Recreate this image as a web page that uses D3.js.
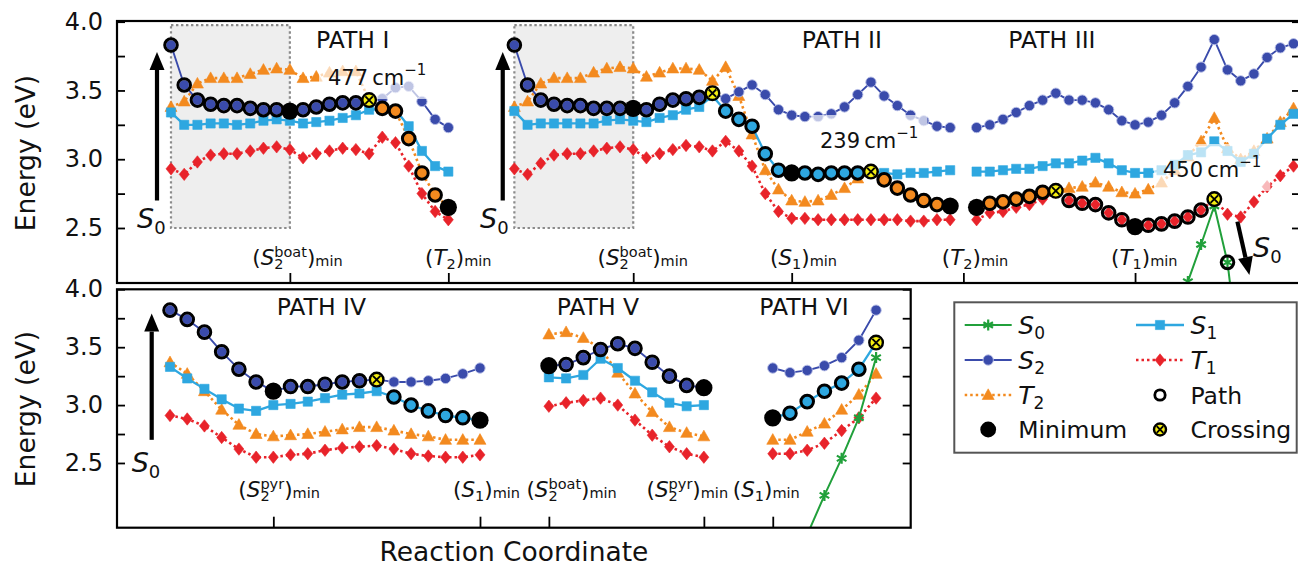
<!DOCTYPE html>
<html><head><meta charset="utf-8">
<script src="https://cdn.jsdelivr.net/npm/d3@7"></script>
<style>
body{margin:0;background:#fff}
svg{display:block}
text{font-family:"DejaVu Sans",sans-serif;fill:#111}
</style>
</head><body>
<svg id="chart" width="1298" height="568"></svg>
<script>
// ---------------- DATA ----------------
// reaction-coordinate offsets of each path on its axis
const topPathStart = [0, 26, 61];
const botPathStart = [0, 22, 35];

// PATH I
const pathI_S2 = [3.83,3.54,3.43,3.40,3.39,3.39,3.37,3.36,3.36,3.35,3.36,3.38,3.40,3.41,3.41,3.43,3.44,3.52,3.53,3.42,3.29,3.23];
const pathI_S1 = [3.34,3.25,3.25,3.26,3.26,3.25,3.26,3.28,3.29,3.28,3.26,3.27,3.28,3.30,3.32,3.36,3.36,3.36,3.24,3.06,2.95,2.91];
const pathI_T2 = [3.38,3.42,3.55,3.59,3.59,3.59,3.62,3.65,3.66,3.65,3.59,3.60,3.63,3.64,3.64,3.43,3.37,3.35,3.15,2.90,2.74,2.65];
const pathI_T1 = [2.93,2.89,2.98,3.03,3.04,3.04,3.06,3.08,3.09,3.07,3.01,3.04,3.06,3.08,3.07,3.04,3.16,3.12,2.95,2.75,2.62,2.56];
const pathI_route = [["S2",0,8,"ring"],["S2",9,9,"min"],["S2",10,14,"ring"],["S2",15,15,"cross"],["T2",16,20,"ring"],["T2",21,21,"min"]];

// PATH II
const pathII_S2 = [3.83,3.54,3.43,3.40,3.39,3.39,3.37,3.37,3.37,3.37,3.36,3.40,3.43,3.44,3.45,3.48,3.44,3.49,3.54,3.47,3.36,3.32,3.31,3.31,3.33,3.38,3.47,3.56,3.46,3.39,3.32,3.28,3.24,3.23];
const pathII_S1 = [3.35,3.25,3.26,3.26,3.26,3.26,3.26,3.28,3.29,3.28,3.27,3.30,3.32,3.36,3.38,3.46,3.35,3.29,3.24,3.04,2.92,2.90,2.90,2.89,2.90,2.90,2.90,2.91,2.90,2.89,2.90,2.90,2.91,2.92];
const pathII_T2 = [3.38,3.42,3.55,3.59,3.59,3.59,3.63,3.66,3.67,3.66,3.60,3.63,3.66,3.66,3.65,3.57,3.67,3.46,3.18,2.92,2.78,2.70,2.69,2.70,2.74,2.79,2.86,2.91,2.85,2.79,2.74,2.70,2.67,2.66];
const pathII_T1 = [2.93,2.89,2.97,3.03,3.04,3.04,3.06,3.08,3.09,3.07,3.01,3.04,3.07,3.10,3.09,3.06,3.13,3.06,2.95,2.75,2.62,2.57,2.57,2.56,2.56,2.56,2.56,2.56,2.56,2.56,2.55,2.55,2.56,2.56];
const pathII_route = [["S2",0,8,"ring"],["S2",9,9,"min"],["S2",10,14,"ring"],["S2",15,15,"cross"],["S1",16,20,"ring"],["S1",21,21,"min"],["S1",22,26,"ring"],["S1",27,27,"cross"],["T2",28,32,"ring"],["T2",33,33,"min"]];

// PATH III
const pathIII_S2 = [3.23,3.25,3.29,3.34,3.39,3.43,3.48,3.43,3.43,3.41,3.36,3.28,3.25,3.27,3.32,3.41,3.53,3.67,3.87,3.65,3.57,3.62,3.74,3.81,3.84];
const pathIII_S1 = [2.91,2.91,2.92,2.93,2.93,2.95,2.97,2.97,2.99,3.01,2.97,2.92,2.90,2.90,2.92,2.96,3.03,3.05,3.13,3.06,2.98,3.04,3.15,3.25,3.33];
const pathIII_T2 = [2.65,2.68,2.69,2.71,2.73,2.76,2.77,2.79,2.80,2.83,2.80,2.76,2.75,2.78,2.83,2.92,3.02,3.13,3.30,3.08,3.00,3.06,3.15,3.27,3.37];
const pathIII_T1 = [2.56,2.61,2.62,2.65,2.67,2.71,2.76,2.70,2.68,2.67,2.61,2.56,2.51,2.52,2.53,2.55,2.58,2.63,2.71,2.60,2.58,2.69,2.80,2.88,2.95];
const pathIII_S0 = [null,null,null,null,null,null,null,null,null,null,null,null,null,null,null,1.80,2.11,2.38,2.66,2.25,1.45,null,null,null,null];
const pathIII_route = [["T2",0,0,"min"],["T2",1,5,"ring"],["T2",6,6,"cross"],["T1",7,11,"ring"],["T1",12,12,"min"],["T1",13,17,"ring"],["T1",18,18,"cross"],["S0",19,19,"ring"]];

// PATH IV
const pathIV_S2 = [3.82,3.74,3.63,3.46,3.31,3.20,3.12,3.16,3.16,3.18,3.20,3.21,3.22,3.20,3.20,3.21,3.23,3.27,3.32];
const pathIV_S1 = [3.33,3.23,3.14,3.05,2.97,2.95,3.00,3.01,3.03,3.06,3.09,3.10,3.12,3.07,3.00,2.95,2.91,2.89,2.87];
const pathIV_T2 = [3.37,3.27,3.12,2.96,2.83,2.75,2.73,2.74,2.75,2.77,2.79,2.81,2.81,2.78,2.75,2.73,2.70,2.70,2.70];
const pathIV_T1 = [2.91,2.88,2.82,2.72,2.62,2.55,2.55,2.57,2.58,2.61,2.63,2.64,2.65,2.62,2.58,2.56,2.55,2.55,2.57];
const pathIV_route = [["S2",0,5,"ring"],["S2",6,6,"min"],["S2",7,11,"ring"],["S2",12,12,"cross"],["S1",13,17,"ring"],["S1",18,18,"min"]];

// PATH V
const pathV_S2 = [3.34,3.35,3.41,3.48,3.53,3.49,3.37,3.25,3.17,3.15];
const pathV_S1 = [3.24,3.23,3.26,3.40,3.32,3.21,3.11,3.02,2.99,3.00];
const pathV_T2 = [3.61,3.63,3.58,3.49,3.28,3.10,2.94,2.81,2.76,2.73];
const pathV_T1 = [2.99,3.02,3.04,3.06,3.00,2.87,2.74,2.64,2.58,2.55];
const pathV_route = [["S2",0,0,"min"],["S2",1,8,"ring"],["S2",9,9,"min"]];

// PATH VI
const pathVI_S2 = [3.32,3.28,3.30,3.34,3.41,3.56,3.82];
const pathVI_S1 = [2.89,2.93,3.03,3.12,3.19,3.31,3.54];
const pathVI_T2 = [2.70,2.70,2.77,2.84,2.96,3.09,3.27];
const pathVI_T1 = [2.58,2.58,2.61,2.67,2.78,2.89,3.06];
const pathVI_S0 = [null,null,1.88,2.22,2.54,2.89,3.41];
const pathVI_route = [["S1",0,0,"min"],["S1",1,5,"ring"],["S1",6,6,"cross"]];

// axis ticks and labels
const yTickValues = [2.5,2.75,3.0,3.25,3.5,3.75,4.0];
const topTickU = [9,21,35,47,60,73];
const topTickNames = [["S","2","boat"],["T","2",null],["S","2","boat"],["S","1",null],["T","2",null],["T","1",null]];
const botTickU = [6,18,22,31,35];
const botTickNames = [["S","2","pyr"],["S","1",null],["S","2","boat"],["S","2","pyr"],["S","1",null]];
const pathTitles = ["PATH I","PATH II","PATH III","PATH IV","PATH V","PATH VI"];
const crossingFreqs = ["477","239","450"];
const shadedSpans = [[0,9],[26,35]];
const shadedEnergy = [2.5, 3.975];
const legendItems = [["S0","S0"],["S2","S2"],["T2","T2"],["min","Minimum"],["S1","S1"],["T1","T1"],["ring","Path"],["cross","Crossing"]];

// ---------------- LAYOUT / STYLE ----------------
const style = {
  S0:{color:"#21a03b", dash:null, w:2, marker:"star", ringFill:"#fff"},
  S1:{color:"#2ea7e0", dash:null, w:2.3, marker:"square", ringFill:"#2ea7e0"},
  S2:{color:"#3a4bab", dash:null, w:1.9, marker:"circle", ringFill:"#3a4bab"},
  T1:{color:"#e8232a", dash:"2.5,3", w:2.6, marker:"diamond", ringFill:"#fff"},
  T2:{color:"#f38a1f", dash:"2.5,3", w:2.6, marker:"triangle", ringFill:"#f38a1f"}
};
const drawOrder = ["T1","T2","S1","S2","S0"];

const svg = d3.select("#chart");
const defs = svg.append("defs");
const TOP = {x0:117, x1:1300, y0:21, y1:283};
const BOT = {x0:117, x1:910.7, y0:289.3, y1:527.7};
defs.append("clipPath").attr("id","clipTop").append("rect")
  .attr("x",TOP.x0).attr("y",TOP.y0).attr("width",TOP.x1-TOP.x0).attr("height",TOP.y1-TOP.y0);
defs.append("clipPath").attr("id","clipBot").append("rect")
  .attr("x",BOT.x0).attr("y",BOT.y0).attr("width",BOT.x1-BOT.x0).attr("height",BOT.y1-BOT.y0);

const xTop = d3.scaleLinear().domain([-4.089, 85.49]).range([TOP.x0, TOP.x1]);
const yTop = d3.scaleLinear().domain([2.1, 4.005]).range([TOP.y1, TOP.y0]);
const xBot = d3.scaleLinear().domain([-3.078, 43.01]).range([BOT.x0, BOT.x1]);
const yBot = d3.scaleLinear().domain([1.941, 4.0]).range([BOT.y1, BOT.y0]);

function markerPath(type){
  switch(type){
    case "circle": return d3.symbol(d3.symbolCircle, 84)();
    case "square": return "M-4.6,-4.6H4.6V4.6H-4.6Z";
    case "triangle": return "M0,-6.2L6,4.5L-6,4.5Z";
    case "diamond": return "M0,-6.2L5,0L0,6.2L-5,0Z";
    case "star": return "M0,-5.5V5.5M-4.8,-2.75L4.8,2.75M-4.8,2.75L4.8,-2.75";
  }
}
function drawMarker(g, type, color, x, y){
  const p = g.append("path").attr("d", markerPath(type)).attr("transform",`translate(${x},${y})`);
  if(type==="star") p.attr("fill","none").attr("stroke",color).attr("stroke-width",2.2);
  else if(type==="circle") p.attr("fill",color).attr("stroke","#b9c0e6").attr("stroke-width",0.9);
  else p.attr("fill",color).attr("stroke",color).attr("stroke-width",0.6);
}
function drawRing(g,x,y,r=6.3,w=3){
  g.append("circle").attr("cx",x).attr("cy",y).attr("r",r).attr("fill","none").attr("stroke","#000").attr("stroke-width",w);
}
function drawMin(g,x,y,r=8.6){
  g.append("circle").attr("cx",x).attr("cy",y).attr("r",r).attr("fill","#000");
}
function drawCross(g,x,y,r=6.8){
  g.append("circle").attr("cx",x).attr("cy",y).attr("r",r).attr("fill","#f5ee12").attr("stroke","#000").attr("stroke-width",2.4);
  const d = r*0.55;
  g.append("path").attr("d",`M${x-d},${y-d}L${x+d},${y+d}M${x-d},${y+d}L${x+d},${y-d}`)
    .attr("stroke","#000").attr("stroke-width",1.9);
}

function drawSeries(g, xs, ys, start, data){
  drawOrder.forEach(k=>{
    const vals = data[k]; if(!vals) return;
    const st = style[k];
    const line = d3.line().defined(d=>d!=null).x((d,i)=>xs(start+i)).y(d=>ys(d));
    g.append("path").datum(vals).attr("d",line).attr("fill","none")
      .attr("stroke",st.color).attr("stroke-width",st.w)
      .attr("stroke-dasharray",st.dash).attr("stroke-linejoin","round");
    vals.forEach((v,i)=>{ if(v!=null) drawMarker(g, st.marker, st.color, xs(start+i), ys(v)); });
  });
}
function drawRoute(g, xs, ys, start, data, route){
  route.forEach(([k,a,b,kind])=>{
    for(let i=a;i<=b;i++){
      const x = xs(start+i), y = ys(data[k][i]);
      if(kind==="ring"){
        const st = style[k];
        g.append("circle").attr("cx",x).attr("cy",y).attr("r",6.3).attr("fill",st.ringFill);
        drawMarker(g, st.marker, st.color, x, y);
        drawRing(g,x,y);
      }
      else if(kind==="min") drawMin(g,x,y);
      else drawCross(g,x,y);
    }
  });
}
function freqLabel(g, x, y, num){
  const box = g.append("rect");
  const t = g.append("text").attr("x",x).attr("y",y).attr("font-size",21);
  t.append("tspan").text(num+"\u2009cm");
  t.append("tspan").attr("font-size",15).attr("dy",-10).text("\u22121");
  const bb = t.node().getBBox();
  const pad = 9;
  box.attr("x",bb.x-pad).attr("y",bb.y-pad).attr("width",bb.width+2*pad).attr("height",bb.height+2*pad)
    .attr("fill","#fff").attr("opacity",0.68);
}
function s0Label(g, x, y, big=27, small=18){
  const t = g.append("text").attr("x",x).attr("y",y).attr("font-size",big);
  t.append("tspan").attr("font-style","italic").text("S");
  t.append("tspan").attr("font-size",small).attr("dy",6).text("0");
  return t;
}
function arrow(g, x1, y1, x2, y2){
  const ang = Math.atan2(y2-y1, x2-x1);
  const L = 18, W = 7.5;
  const bx = x2 - L*Math.cos(ang), by = y2 - L*Math.sin(ang);
  g.append("line").attr("x1",x1).attr("y1",y1).attr("x2",bx).attr("y2",by).attr("stroke","#000").attr("stroke-width",4.2);
  const px = -Math.sin(ang)*W, py = Math.cos(ang)*W;
  g.append("path").attr("d",`M${x2},${y2}L${bx+px},${by+py}L${bx-px},${by-py}Z`).attr("fill","#000");
}
function minLabel(g, x, y, name){
  const [main, sub, sup] = name;
  const big = 21.5, small = 14.5;
  const t = g.append("text").attr("x",x).attr("y",y).attr("font-size",big);
  t.append("tspan").text("(");
  t.append("tspan").attr("font-style","italic").text(main);
  if(sup){
    const a = t.append("tspan").attr("font-size",small).attr("dy",-8).text(sup);
    const wa = a.node().getComputedTextLength();
    const b = t.append("tspan").attr("font-size",small).attr("dx",-wa).attr("dy",12).text(sub);
    const wb = b.node().getComputedTextLength();
    t.append("tspan").attr("dx",wa-wb).attr("dy",-4).text(")");
  } else {
    t.append("tspan").attr("font-size",small).attr("dy",4).text(sub);
    t.append("tspan").attr("dy",-4).text(")");
  }
  t.append("tspan").attr("font-size",small).attr("dy",1).text("min");
}

// ---------------- TOP PANEL ----------------
const gTop = svg.append("g");
const cTop = gTop.append("g").attr("clip-path","url(#clipTop)");
shadedSpans.forEach(([a,b])=>{
  cTop.append("rect").attr("x",xTop(a)).attr("y",yTop(shadedEnergy[1]))
    .attr("width",xTop(b)-xTop(a)).attr("height",yTop(shadedEnergy[0])-yTop(shadedEnergy[1]))
    .attr("fill","#eeeeee").attr("stroke","#8a8a8a").attr("stroke-width",2.2).attr("stroke-dasharray","2.4,2.6");
});
const topPaths = [
  {start:topPathStart[0], data:{S2:pathI_S2,S1:pathI_S1,T2:pathI_T2,T1:pathI_T1}, route:pathI_route},
  {start:topPathStart[1], data:{S2:pathII_S2,S1:pathII_S1,T2:pathII_T2,T1:pathII_T1}, route:pathII_route},
  {start:topPathStart[2], data:{S2:pathIII_S2,S1:pathIII_S1,T2:pathIII_T2,T1:pathIII_T1,S0:pathIII_S0}, route:pathIII_route}
];
topPaths.forEach(p=>drawSeries(cTop, xTop, yTop, p.start, p.data));
freqLabel(cTop, 328, 85, crossingFreqs[0]);
freqLabel(cTop, 820, 148, crossingFreqs[1]);
freqLabel(cTop, 1163, 177, crossingFreqs[2]);
topPaths.forEach(p=>drawRoute(cTop, xTop, yTop, p.start, p.data, p.route));

// arrows / S0 labels top
arrow(gTop, xTop(-1.06), yTop(2.70), xTop(-1.06), yTop(3.78));
s0Label(gTop, 137, 228);
arrow(gTop, xTop(25.12), yTop(2.70), xTop(25.12), yTop(3.78));
s0Label(gTop, 480, 228);
arrow(cTop, xTop(80.75), yTop(2.546), xTop(81.66), yTop(2.158));
s0Label(cTop, 1253, 257);

// titles
[[316,48],[801.7,48],[1008.3,48]].forEach(([x,y],i)=>{
  gTop.append("text").attr("x",x).attr("y",y).attr("font-size",23.5).text(pathTitles[i]);
});

// axes top
function styleAxis(g){ g.select(".domain").remove(); g.attr("font-family",null).attr("font-size",null);
  g.selectAll(".tick line").attr("stroke","#000").attr("stroke-width",1.8);
  g.selectAll(".tick text").attr("font-size",24).attr("fill","#111"); }
gTop.append("g").attr("transform",`translate(${TOP.x0},0)`)
  .call(d3.axisLeft(yTop).tickValues(yTickValues).tickSize(-8).tickPadding(14)
    .tickFormat(d=> Math.abs(d*2-Math.round(d*2))<1e-9 ? d.toFixed(1) : "")).call(styleAxis);
gTop.append("g").attr("transform",`translate(${TOP.x1},0)`)
  .call(d3.axisRight(yTop).tickValues(yTickValues).tickSize(-8).tickFormat("")).call(styleAxis);
gTop.append("g").attr("transform",`translate(0,${TOP.y1})`)
  .call(d3.axisBottom(xTop).tickValues(topTickU).tickSize(-10).tickFormat("")).call(styleAxis);
const topLabelLeft = [-37.6,-23.3,-35.7,-21.7,-21.6,-24];
topTickU.forEach((u,i)=> minLabel(gTop, xTop(u)+topLabelLeft[i], 265, topTickNames[i]));
gTop.append("rect").attr("x",TOP.x0).attr("y",TOP.y0).attr("width",TOP.x1-TOP.x0).attr("height",TOP.y1-TOP.y0)
  .attr("fill","none").attr("stroke","#000").attr("stroke-width",2.2);

// ---------------- BOTTOM PANEL ----------------
const gBot = svg.append("g");
const cBot = gBot.append("g").attr("clip-path","url(#clipBot)");
const botPaths = [
  {start:botPathStart[0], data:{S2:pathIV_S2,S1:pathIV_S1,T2:pathIV_T2,T1:pathIV_T1}, route:pathIV_route},
  {start:botPathStart[1], data:{S2:pathV_S2,S1:pathV_S1,T2:pathV_T2,T1:pathV_T1}, route:pathV_route},
  {start:botPathStart[2], data:{S2:pathVI_S2,S1:pathVI_S1,T2:pathVI_T2,T1:pathVI_T1,S0:pathVI_S0}, route:pathVI_route}
];
botPaths.forEach(p=>drawSeries(cBot, xBot, yBot, p.start, p.data));
botPaths.forEach(p=>drawRoute(cBot, xBot, yBot, p.start, p.data, p.route));
arrow(gBot, xBot(-1.063), yBot(2.70), xBot(-1.063), yBot(3.79));
s0Label(gBot, 131.7, 471.7);
[[276.7,315],[556.7,315],[759.3,315]].forEach(([x,y],i)=>{
  gBot.append("text").attr("x",x).attr("y",y).attr("font-size",23.5).text(pathTitles[i+3]);
});
gBot.append("g").attr("transform",`translate(${BOT.x0},0)`)
  .call(d3.axisLeft(yBot).tickValues(yTickValues).tickSize(-8).tickPadding(14)
    .tickFormat(d=> Math.abs(d*2-Math.round(d*2))<1e-9 ? d.toFixed(1) : "")).call(styleAxis);
gBot.append("g").attr("transform",`translate(${BOT.x1},0)`)
  .call(d3.axisRight(yBot).tickValues(yTickValues).tickSize(-8).tickFormat("")).call(styleAxis);
gBot.append("g").attr("transform",`translate(0,${BOT.y1})`)
  .call(d3.axisBottom(xBot).tickValues(botTickU).tickSize(-11).tickFormat("")).call(styleAxis);
const botLabelLeft = [-35,-27,-22.5,-57.3,-40];
botTickU.forEach((u,i)=> minLabel(gBot, xBot(u)+botLabelLeft[i], 497, botTickNames[i]));
gBot.append("rect").attr("x",BOT.x0).attr("y",BOT.y0).attr("width",BOT.x1-BOT.x0).attr("height",BOT.y1-BOT.y0)
  .attr("fill","none").attr("stroke","#000").attr("stroke-width",2.2);

// axis titles
svg.append("text").attr("transform","translate(35,153) rotate(-90)").attr("text-anchor","middle").attr("font-size",26.5).text("Energy (eV)");
svg.append("text").attr("transform","translate(35,409) rotate(-90)").attr("text-anchor","middle").attr("font-size",26.5).text("Energy (eV)");
svg.append("text").attr("x",514).attr("y",561).attr("text-anchor","middle").attr("font-size",26.5).text("Reaction Coordinate");

// ---------------- LEGEND ----------------
const gL = svg.append("g");
gL.append("rect").attr("x",954.3).attr("y",302.3).attr("width",342.4).attr("height",150.4)
  .attr("fill","#fff").attr("stroke","#555").attr("stroke-width",2);
const rowY = [325,360,395,429.5];
const colHandle = [[964.7,1011.7],[1136,1184]];
const colText = [1018.3,1190.5];
legendItems.forEach(([key,label],i)=>{
  const col = Math.floor(i/4), row = i%4;
  const [h0,h1] = colHandle[col]; const hc = (h0+h1)/2; const y = rowY[row];
  if(style[key]){
    const st = style[key];
    gL.append("line").attr("x1",h0).attr("x2",h1).attr("y1",y).attr("y2",y)
      .attr("stroke",st.color).attr("stroke-width",st.w).attr("stroke-dasharray",st.dash);
    drawMarker(gL, st.marker, st.color, hc, y);
    const t = gL.append("text").attr("x",colText[col]).attr("y",y+8.5).attr("font-size",25);
    t.append("tspan").attr("font-style","italic").text(label[0]);
    t.append("tspan").attr("font-size",17).attr("dy",5).text(label[1]);
  } else {
    if(key==="min") drawMin(gL,hc,y,7.9);
    else if(key==="ring") drawRing(gL,hc,y,5.2,2.8);
    else drawCross(gL,hc,y,6);
    gL.append("text").attr("x",colText[col]).attr("y",y+8.5).attr("font-size",23.5).text(label);
  }
});
</script>
</body></html>
